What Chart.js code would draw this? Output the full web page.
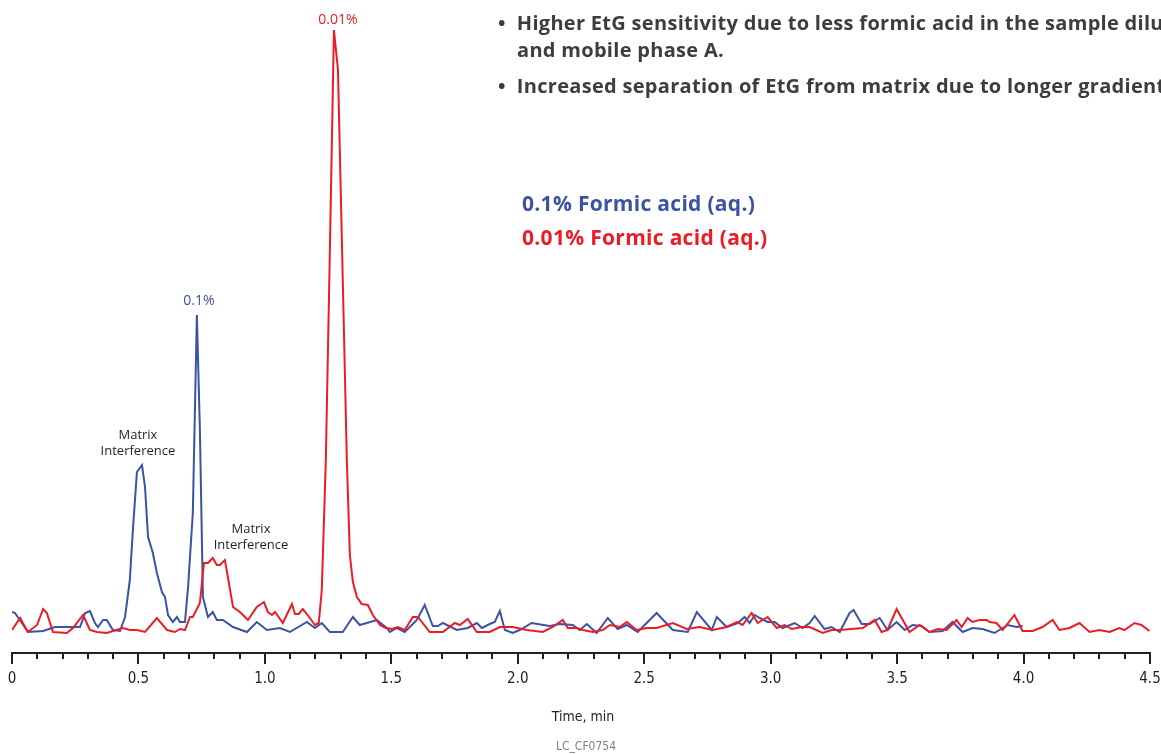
<!DOCTYPE html>
<html>
<head>
<meta charset="utf-8">
<script src="https://cdn.jsdelivr.net/npm/chart.js@4/dist/chart.umd.min.js"></script>
<style>
  html, body { margin: 0; padding: 0; background: #fff; overflow: hidden; }
  #wrap { position: relative; width: 1161px; height: 754px; overflow: hidden; }
  canvas { position: absolute; left: 0; top: 0; }
  .txt { position: absolute; white-space: nowrap; line-height: 1; }
  .bullet { font-family: "Open Sans", sans-serif; font-weight: 700; font-size: 20px; letter-spacing: 0.3px; color: #3d3d3d; }
  .legend { font-family: "Open Sans", sans-serif; font-weight: 700; font-size: 21px; letter-spacing: 0.3px; }
  .cond { font-family: "DejaVu Sans Condensed", sans-serif; }
</style>
</head>
<body>
<div id="wrap">
  <canvas id="chrom" width="1161" height="754"></canvas>

  <div class="txt bullet" style="left:498px; top:13px;">•&nbsp; Higher EtG sensitivity due to less formic acid in the sample diluent</div>
  <div class="txt bullet" style="left:517px; top:40px;">and mobile phase A.</div>
  <div class="txt bullet" style="left:498px; top:76px;">•&nbsp; Increased separation of EtG from matrix due to longer gradient</div>

  <div class="txt legend" style="left:522px; top:193px; color:#3a53a4;">0.1% Formic acid (aq.)</div>
  <div class="txt legend" style="left:522px; top:227px; color:#ed1c24;">0.01% Formic acid (aq.)</div>

  <div class="txt cond" style="left:483px; width:200px; text-align:center; top:709px; font-size:14px; color:#231f20;">Time, min</div>
  <div class="txt cond" style="left:486px; width:200px; text-align:center; top:740px; font-size:12px; color:#808080;">LC_CF0754</div>
</div>

<script>
const blueTimes = [0.000, 0.012, 0.063, 0.123, 0.170, 0.217, 0.269, 0.289, 0.308, 0.328, 0.340, 0.360, 0.375, 0.399, 0.427, 0.447, 0.466, 0.478, 0.494, 0.514, 0.526, 0.538, 0.557, 0.573, 0.593, 0.605, 0.617, 0.636, 0.652, 0.664, 0.684, 0.696, 0.715, 0.731, 0.743, 0.755, 0.775, 0.794, 0.810, 0.834, 0.874, 0.929, 0.968, 1.008, 1.059, 1.099, 1.166, 1.198, 1.225, 1.257, 1.308, 1.348, 1.375, 1.403, 1.443, 1.482, 1.494, 1.522, 1.553, 1.601, 1.632, 1.664, 1.684, 1.704, 1.759, 1.802, 1.838, 1.858, 1.889, 1.909, 1.929, 1.949, 1.980, 2.008, 2.055, 2.126, 2.166, 2.217, 2.245, 2.273, 2.312, 2.356, 2.395, 2.431, 2.474, 2.549, 2.613, 2.672, 2.708, 2.767, 2.787, 2.826, 2.870, 2.897, 2.917, 2.937, 2.957, 2.988, 3.016, 3.047, 3.095, 3.126, 3.154, 3.174, 3.213, 3.241, 3.273, 3.312, 3.328, 3.360, 3.391, 3.431, 3.462, 3.498, 3.530, 3.561, 3.597, 3.628, 3.680, 3.719, 3.759, 3.798, 3.838, 3.885, 3.937, 3.972, 3.996];
const blueValues = [41, 40, 21, 22, 26, 26, 26, 40, 42, 30, 26, 33, 33, 23, 22, 36, 73, 123, 181, 188, 166, 116, 100, 80, 61, 56, 38, 31, 36, 31, 31, 65, 140, 338, 223, 56, 36, 41, 33, 33, 26, 21, 31, 23, 25, 21, 31, 25, 30, 21, 21, 36, 28, 30, 33, 25, 21, 25, 21, 33, 48, 27, 27, 30, 23, 25, 30, 25, 29, 31, 42, 23, 20, 23, 30, 27, 29, 28, 23, 29, 20, 35, 24, 28, 21, 40, 23, 21, 41, 23, 36, 26, 30, 36, 30, 38, 35, 31, 31, 25, 30, 25, 30, 37, 24, 26, 21, 40, 43, 29, 29, 35, 23, 31, 23, 28, 27, 21, 22, 31, 21, 25, 24, 20, 28, 26, 27];

const redTimes = [0.000, 0.032, 0.063, 0.099, 0.123, 0.138, 0.162, 0.217, 0.241, 0.281, 0.308, 0.336, 0.375, 0.399, 0.439, 0.466, 0.494, 0.526, 0.573, 0.613, 0.644, 0.664, 0.684, 0.704, 0.715, 0.743, 0.759, 0.775, 0.794, 0.810, 0.822, 0.842, 0.874, 0.901, 0.933, 0.968, 0.996, 1.012, 1.028, 1.040, 1.071, 1.107, 1.119, 1.134, 1.150, 1.166, 1.198, 1.213, 1.225, 1.241, 1.257, 1.273, 1.289, 1.308, 1.324, 1.336, 1.348, 1.364, 1.383, 1.407, 1.427, 1.455, 1.478, 1.502, 1.526, 1.553, 1.585, 1.605, 1.652, 1.704, 1.751, 1.771, 1.802, 1.838, 1.889, 1.929, 1.980, 2.036, 2.099, 2.138, 2.178, 2.198, 2.233, 2.257, 2.296, 2.336, 2.364, 2.403, 2.431, 2.470, 2.510, 2.549, 2.613, 2.668, 2.719, 2.771, 2.826, 2.866, 2.889, 2.925, 2.949, 2.988, 3.024, 3.055, 3.083, 3.123, 3.154, 3.206, 3.241, 3.273, 3.364, 3.411, 3.439, 3.462, 3.498, 3.549, 3.589, 3.628, 3.660, 3.696, 3.735, 3.755, 3.779, 3.798, 3.826, 3.854, 3.866, 3.893, 3.917, 3.964, 3.996, 4.036, 4.075, 4.115, 4.142, 4.182, 4.221, 4.261, 4.300, 4.340, 4.379, 4.399, 4.439, 4.466, 4.498];
const redValues = [23, 35, 21, 28, 44, 40, 21, 20, 25, 38, 23, 21, 20, 22, 25, 23, 23, 21, 35, 23, 21, 24, 23, 36, 36, 50, 90, 90, 95, 88, 88, 93, 46, 41, 33, 46, 51, 41, 38, 41, 30, 49, 39, 39, 44, 39, 28, 30, 63, 193, 403, 623, 583, 373, 193, 98, 71, 56, 49, 48, 38, 28, 25, 24, 26, 23, 36, 36, 21, 21, 30, 28, 34, 21, 21, 26, 26, 23, 21, 26, 33, 25, 25, 23, 21, 23, 28, 26, 31, 23, 25, 25, 30, 24, 26, 23, 26, 31, 28, 40, 30, 36, 25, 28, 24, 26, 26, 20, 23, 23, 25, 33, 21, 23, 44, 21, 28, 21, 24, 23, 33, 26, 35, 31, 33, 33, 31, 30, 23, 38, 22, 22, 26, 33, 23, 25, 30, 21, 23, 21, 25, 23, 30, 28, 22];

const majorTicks = [0, 0.5, 1.0, 1.5, 2.0, 2.5, 3.0, 3.5, 4.0, 4.5];

// annotations : [texte, temps, intensité, couleur, taille]
const notes = [
  ["0.01%", 1.289, 633, "#ed1c24", 14],
  ["0.1%", 0.739, 352, "#3a53a4", 14],
  ["Matrix", 0.498, 218, "#231f20", 13],
  ["Interference", 0.498, 202, "#231f20", 13],
  ["Matrix", 0.945, 124, "#231f20", 13],
  ["Interference", 0.945, 108, "#231f20", 13]
];

const BLUE = "#3a53a4";
const RED = "#ed1c24";
const INK = "#231f20";

// petites graduations tous les 0.1 min + annotations
const extras = {
  id: "extras",
  afterDraw(chart) {
    const ctx = chart.ctx;
    const x = chart.scales.x;
    const y = chart.scales.y;
    const base = chart.chartArea.bottom;
    ctx.save();
    ctx.strokeStyle = INK;
    ctx.lineWidth = 2;
    for (let i = 0; i <= 45; i++) {
      if (i % 5 === 0) continue;
      const px = Math.round(x.getPixelForValue(i / 10));
      ctx.beginPath();
      ctx.moveTo(px, base);
      ctx.lineTo(px, base + 6);
      ctx.stroke();
    }
    ctx.textAlign = "center";
    ctx.textBaseline = "middle";
    notes.forEach(n => {
      ctx.fillStyle = n[3];
      ctx.font = n[4] + "px 'Open Sans', sans-serif";
      ctx.fillText(n[0], x.getPixelForValue(n[1]), y.getPixelForValue(n[2]));
    });
    ctx.restore();
  }
};

new Chart(document.getElementById("chrom"), {
  type: "line",
  data: {
    datasets: [
      {
        label: "0.01% Formic acid (aq.)",
        data: redTimes.map((t, i) => ({ x: t, y: redValues[i] })),
        borderColor: RED,
        borderWidth: 2,
        pointRadius: 0,
        tension: 0
      },
      {
        label: "0.1% Formic acid (aq.)",
        data: blueTimes.map((t, i) => ({ x: t, y: blueValues[i] })),
        borderColor: BLUE,
        borderWidth: 2,
        pointRadius: 0,
        tension: 0
      }
    ]
  },
  options: {
    responsive: false,
    animation: false,
    layout: { padding: { left: 12, right: 11, top: 0, bottom: 0 } },
    plugins: { legend: { display: false }, tooltip: { enabled: false } },
    scales: {
      x: {
        type: "linear",
        min: 0,
        max: 4.5,
        afterFit: s => { s.height = 101; s.paddingLeft = 0; s.paddingRight = 0; },
        afterBuildTicks: s => { s.ticks = majorTicks.map(v => ({ value: v })); },
        border: { display: true, color: INK, width: 2 },
        grid: { drawOnChartArea: false, color: INK, lineWidth: 2, tickLength: 11 },
        ticks: {
          padding: 6,
          maxRotation: 0,
          autoSkip: false,
          color: INK,
          font: { family: "'DejaVu Sans Condensed', sans-serif", size: 15 },
          callback: v => (v === 0 ? "0" : v.toFixed(1))
        }
      },
      y: {
        display: false,
        min: 0,
        max: 653
      }
    }
  },
  plugins: [extras]
});
</script>
</body>
</html>
